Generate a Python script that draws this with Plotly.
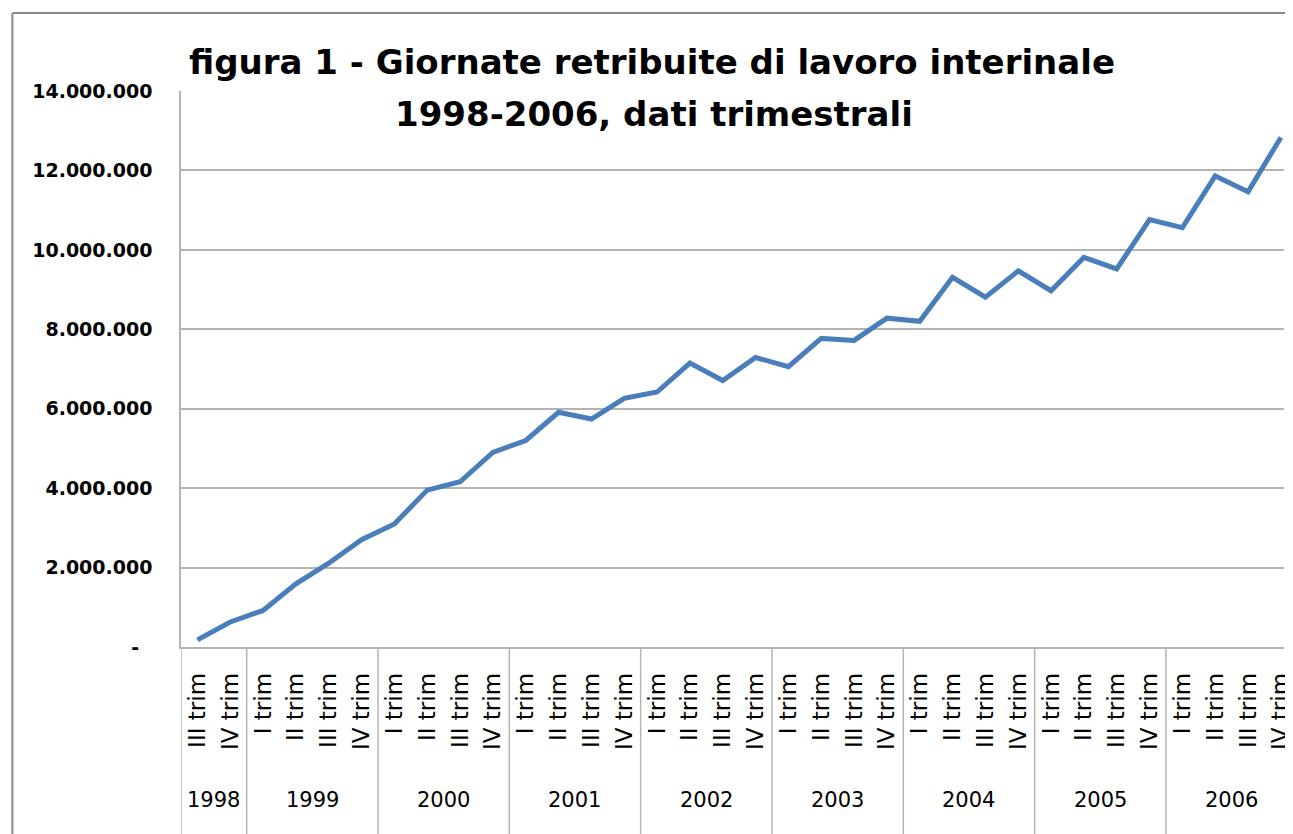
import plotly.graph_objects as go

# ---- data ----
years = ["1998", "1998",
         "1999", "1999", "1999", "1999",
         "2000", "2000", "2000", "2000",
         "2001", "2001", "2001", "2001",
         "2002", "2002", "2002", "2002",
         "2003", "2003", "2003", "2003",
         "2004", "2004", "2004", "2004",
         "2005", "2005", "2005", "2005",
         "2006", "2006", "2006", "2006"]
quarters = ["III trim", "IV trim"] + ["I trim", "II trim", "III trim", "IV trim"] * 8
giornate = [180000, 630000,
            920000, 1590000, 2110000, 2700000,
            3100000, 3950000, 4160000, 4900000,
            5200000, 5910000, 5740000, 6260000,
            6420000, 7150000, 6710000, 7290000,
            7060000, 7770000, 7720000, 8280000,
            8200000, 9310000, 8810000, 9470000,
            8970000, 9810000, 9520000, 10760000,
            10560000, 11860000, 11460000, 12830000]
y_tick_vals = [0, 2000000, 4000000, 6000000, 8000000, 10000000, 12000000, 14000000]
y_tick_text = ["-\u00a0\u00a0", "2.000.000", "4.000.000", "6.000.000", "8.000.000",
               "10.000.000", "12.000.000", "14.000.000"]
title_line1 = "figura 1 - Giornate retribuite di lavoro interinale"
title_line2 = "1998-2006, dati trimestrali"

cats = [f"{y} {q}" for y, q in zip(years, quarters)]

# ---- layout geometry (pixels, page has an 8px body margin) ----
OFF = 8
W, H = 1293 - OFF, 834 - OFF
L, T = 181 - OFF, 91 - OFF
PLOT_BOTTOM = 647 - OFF
B = H - PLOT_BOTTOM
plot_h = PLOT_BOTTOM - T
GRID = "#b3b3b3"
FONT = "DejaVu Sans"

fig = go.Figure()
fig.add_trace(go.Scatter(
    x=cats, y=giornate, mode="lines",
    line=dict(color="#4a7ebb", width=5),
    showlegend=False, hoverinfo="skip", cliponaxis=True,
))

def py(pref):  # reference pixel y -> paper y
    return (PLOT_BOTTOM - (pref - OFF)) / plot_h

def px_x(pref):  # reference pixel x -> paper x
    return ((pref - OFF) - L) / (W - L)

shapes = []
unique_years = []
for yv in years:
    if yv not in unique_years:
        unique_years.append(yv)
bounds = [-0.5]
for yv in unique_years:
    idx = [i for i, v in enumerate(years) if v == yv]
    bounds.append(idx[-1] + 0.5)
for b in bounds[:-1]:
    shapes.append(dict(type="line", xref="x", yref="paper", x0=b, x1=b,
                       y0=0, y1=py(840), line=dict(color=GRID, width=1.5)))
# outer chart border (left and top)
shapes.append(dict(type="line", xref="paper", yref="paper",
                   x0=px_x(11), x1=px_x(11), y0=py(13), y1=py(840),
                   line=dict(color="#8a8a8a", width=2)))
shapes.append(dict(type="line", xref="paper", yref="paper",
                   x0=px_x(11), x1=px_x(1300), y0=py(13), y1=py(13),
                   line=dict(color="#8a8a8a", width=2)))

annotations = []
for yv in unique_years:
    idx = [i for i, v in enumerate(years) if v == yv]
    annotations.append(dict(x=sum(idx) / len(idx), y=py(800), xref="x", yref="paper",
                            text=yv, showarrow=False, xanchor="center", yanchor="middle",
                            font=dict(family=FONT, size=21, color="black")))
annotations.append(dict(x=px_x(656), y=py(62), xref="paper", yref="paper",
                        text=f"<b>{title_line1}</b>", showarrow=False,
                        xanchor="center", yanchor="middle",
                        font=dict(family=FONT, size=34, color="black")))
annotations.append(dict(x=px_x(658), y=py(114), xref="paper", yref="paper",
                        text=f"<b>{title_line2}</b>", showarrow=False,
                        xanchor="center", yanchor="middle",
                        font=dict(family=FONT, size=34, color="black")))

fig.update_layout(
    width=W, height=H,
    margin=dict(l=L, r=0, t=T, b=B, pad=0),
    paper_bgcolor="white", plot_bgcolor="white",
    shapes=shapes, annotations=annotations,
    xaxis=dict(
        type="category", categoryorder="array", categoryarray=cats,
        range=[-0.5, -0.5 + (W - L) / 33.1],
        tickmode="array", tickvals=cats, ticktext=quarters,
        tickangle=-90, ticks="", ticklabelstandoff=15,
        tickfont=dict(family=FONT, size=23, color="black"),
        showgrid=False, zeroline=False,
        showline=True, linecolor=GRID, linewidth=1.5,
    ),
    yaxis=dict(
        range=[0, 14000000],
        tickmode="array", tickvals=y_tick_vals, ticktext=y_tick_text,
        ticks="", ticklabelstandoff=23,
        tickfont=dict(family=FONT, size=19, color="black", weight="bold"),
        showgrid=True, gridcolor=GRID, gridwidth=1.5,
        zeroline=False, showline=True, linecolor=GRID, linewidth=1.5,
    ),
)

fig.write_html("out.html")
